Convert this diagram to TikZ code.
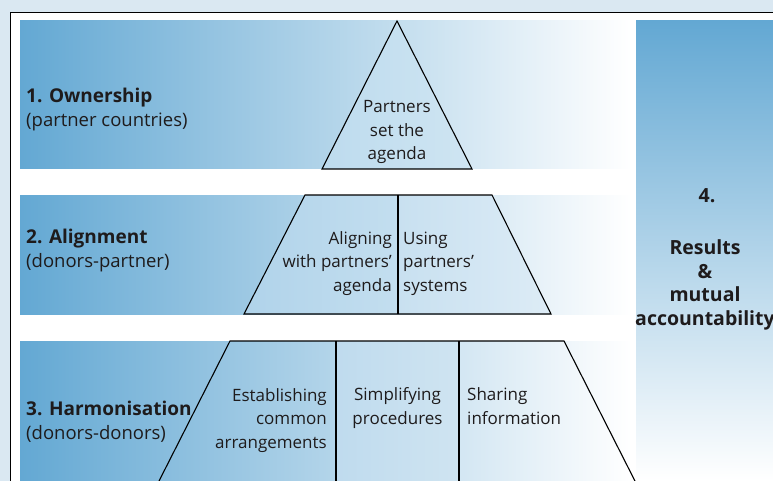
\documentclass[tikz,border=0pt]{standalone}
\usepackage{fontspec}
\setmainfont{Open Sans}
\definecolor{bandblue}{HTML}{63A8D3}
\definecolor{outerbg}{HTML}{DAE8F2}
\definecolor{inkc}{HTML}{1E1B1C}
\definecolor{triL}{HTML}{BDDBEE}
\definecolor{triR}{HTML}{CFE5F2}
\definecolor{aL}{HTML}{B0D3EA}
\definecolor{aR}{HTML}{C3DEEF}
\definecolor{uL}{HTML}{C8E0F0}
\definecolor{uR}{HTML}{DDECF6}
\definecolor{sL}{HTML}{BFDBEE}
\definecolor{sR}{HTML}{CFE4F1}
\begin{document}
\begin{tikzpicture}[x=1pt,y=-1pt,
  txt/.style={font=\fontsize{17}{23.5}\selectfont, inner sep=0pt, text=inkc},
  head/.style={txt, font=\fontsize{18.5}{24}\selectfont, anchor=base west, align=left},
  boldtxt/.style={txt, font=\bfseries\fontsize{19.5}{23.5}\selectfont},
  shapeline/.style={draw=black, line width=1.1pt, line join=miter},
  band/.style={left color=bandblue, right color=white}]
\useasboundingbox (0,0) rectangle (773,481);
\begin{scope}
\clip (0,0) rectangle (773,481);
\fill[outerbg] (0,0) rectangle (773,481);
\draw[fill=white,line width=1.2pt] (10.5,12.5) rectangle (790,500);
% bands
\shade[band] (20,21) rectangle (631,169);
\shade[band] (20,195) rectangle (631,314);
\shade[band] (20,341) rectangle (631,500);
% level 1 triangle
\path[shapeline, left color=triL, right color=triR] (397,21) -- (472,169) -- (322,169) -- cycle;
% level 2 trapezoid
\path[left color=aL, right color=aR] (305,195) -- (398,195) -- (398,314) -- (244,314) -- cycle;
\path[left color=uL, right color=uR] (398,195) -- (492,195) -- (551,314) -- (398,314) -- cycle;
\draw[shapeline] (305,195) -- (492,195) -- (551,314) -- (244,314) -- cycle;
\draw[shapeline] (398,195) -- (398,314);
% level 3 trapezoid
\path[left color=sL, right color=sR] (336,341) rectangle (459,500);
\draw[shapeline] (149.4,500) -- (230,341) -- (564,341) -- (644.6,500);
\draw[shapeline] (336,341) -- (336,500);
\draw[shapeline] (459,341) -- (459,500);
% right column
\shade[top color=bandblue, bottom color=white] (636,21) rectangle (790,481);
% texts (base anchor = baseline of last line)
\node[head] (own) at (26,127) {\textbf{\fontsize{19}{24}\selectfont 1. Ownership}\\(partner countries)};
\node[head] (aln) at (26,267) {\textbf{\fontsize{19}{24}\selectfont 2. Alignment}\\(donors-partner)};
\node[head] (har) at (26,439) {\textbf{\fontsize{19}{24}\selectfont 3. Harmonisation}\\(donors-donors)};
\node[txt, anchor=base, align=center] (agenda) at (397,160) {Partners\\set the\\agenda};
\node[txt, anchor=base east, align=right] (aligning) at (392,291) {Aligning\\with partners’\\agenda};
\node[txt, anchor=base west, align=left] (using) at (403,291) {Using\\partners’\\systems};
\node[txt, anchor=base east, align=right] (establishing) at (327,448) {Establishing\\common\\arrangements};
\node[txt, anchor=base, align=center] (simplifying) at (397.5,424) {Simplifying\\procedures};
\node[txt, anchor=base west, align=left] (sharing) at (467,424) {Sharing\\information};
\node[boldtxt, anchor=base] (four) at (707,203) {4.};
\node[boldtxt, anchor=base, align=center] (results) at (705,325) {Results\\\&\\mutual\\accountability};
\end{scope}
\end{tikzpicture}
\end{document}
